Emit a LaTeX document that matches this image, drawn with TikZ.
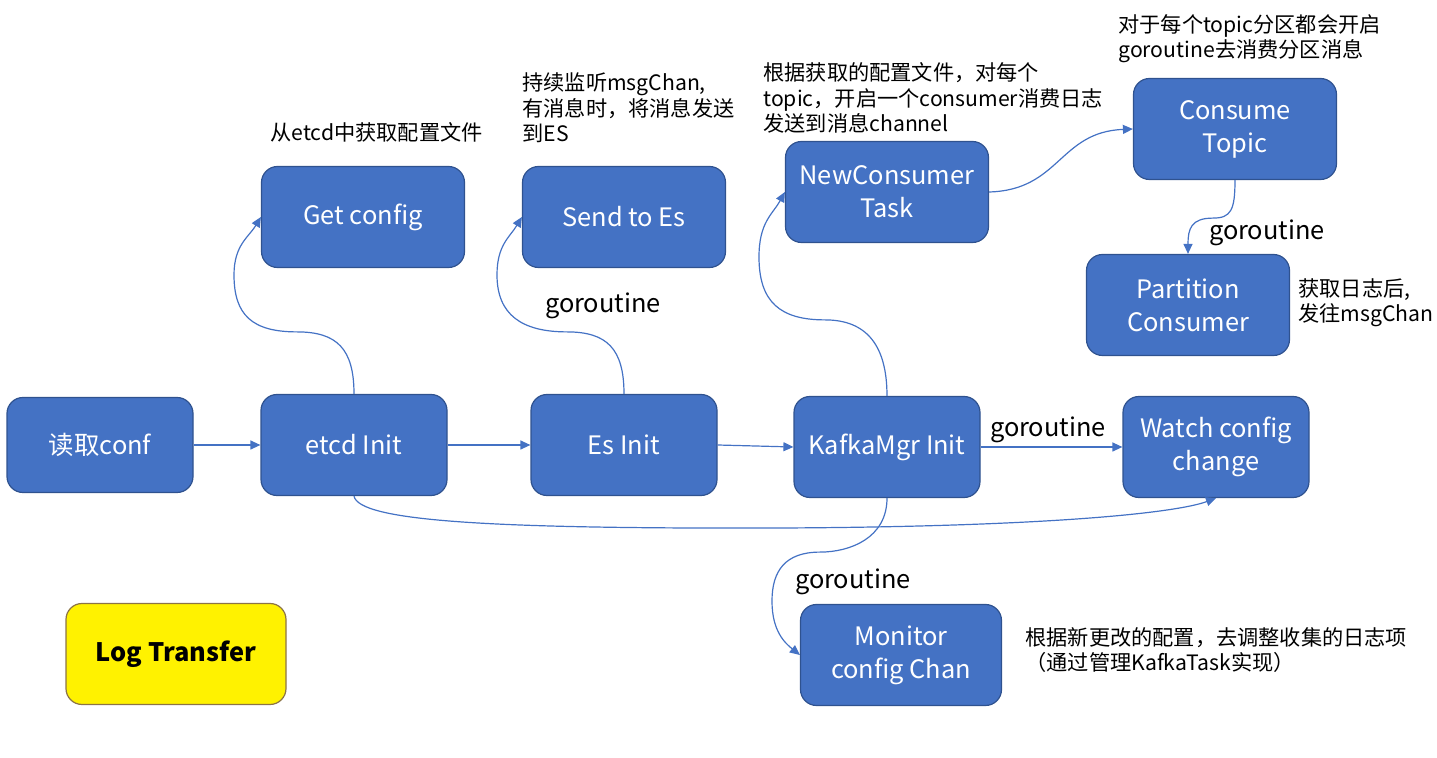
\documentclass[tikz,border=0pt]{standalone}
\usepackage{fontspec}
\setmainfont{Noto Sans CJK SC}
\definecolor{boxblue}{HTML}{4472C4}
\definecolor{rimblue}{HTML}{2F528F}
\definecolor{rimgold}{HTML}{8C7446}
\usetikzlibrary{arrows.meta, positioning}

\begin{document}
\begin{tikzpicture}[x=0.5pt, y=-0.5pt,
    blk/.style={rectangle, rounded corners=8pt, draw=rimblue, line width=0.6pt,
                fill=boxblue, text=white, minimum width=93pt, minimum height=50.5pt,
                align=center, font=\fontsize{12.7}{16.5}\selectfont},
    wblk/.style={blk, minimum width=101.5pt},
    note/.style={align=left, inner sep=0pt, anchor=west,
                 font=\fontsize{10.6}{12.7}\selectfont},
    lbl/.style={inner sep=0pt, font=\fontsize{12.7}{15}\selectfont},
    arr/.style={-{Triangle[length=5pt, width=4.5pt]}, draw=boxblue, line width=0.6pt}
  ]
  \useasboundingbox (0,0) rectangle (1437,758);

  % main line
  \node[blk, minimum height=47.5pt] (conf) at (100,445) {读取conf};
  \node[blk]  (etcd)  at (354,445)  {etcd Init};
  \node[blk]  (es)    at (624,445)  {Es Init};
  \node[blk]  (kafka) at (887,447)  {KafkaMgr Init};
  \node[blk]  (watch) at (1216,447) {Watch config\\change};

  % goroutines
  \node[wblk] (get)   at (363,217)  {Get config};
  \node[wblk] (send)  at (624,217)  {Send to Es};
  \node[wblk] (newc)  at (887,192)  {NewConsumer\\Task};
  \node[wblk] (topic) at (1235,129) {Consume\\Topic};
  \node[wblk] (part)  at (1188,305) {Partition\\Consumer};
  \node[wblk, minimum width=100.5pt] (mon) at (901,655) {Monitor\\config Chan};

  \node[blk, fill=yellow, draw=rimgold, text=black, minimum width=110pt,
        font=\fontsize{12.7}{15}\selectfont\bfseries] (title) at (176,654) {Log Transfer};

  % notes
  \node[note] (n1) at (270,132)    {从etcd中获取配置文件};
  \node[note] (n2) at (522,108)    {持续监听msgChan,\\有消息时，将消息发送\\到ES};
  \node[note] (n3) at (763,98)     {根据获取的配置文件，对每个\\topic，开启一个consumer消费日志\\发送到消息channel};
  \node[note] (n4) at (1118,38.5)  {对于每个topic分区都会开启\\goroutine去消费分区消息};
  \node[note] (n5) at (1298,302.5) {获取日志后,\\发往msgChan};
  \node[note] (n6) at (1025,650)   {根据新更改的配置，去调整收集的日志项\\（通过管理KafkaTask实现）};

  \node[lbl] (g1) at (603,306)  {goroutine};
  \node[lbl] (g2) at (1048,430) {goroutine};
  \node[lbl] (g3) at (1267,233) {goroutine};
  \node[lbl] (g4) at (853,582)  {goroutine};

  % straight arrows
  \draw[arr] (conf.east)  -- (etcd.west);
  \draw[arr] (etcd.east)  -- (es.west);
  \draw[arr] (es.east)    -- (kafka.west);
  \draw[arr] (kafka.east) -- (watch.west);

  % curved arrows
  \draw[arr] (etcd.north) .. controls +(0,-45) and +(40,0) .. ++(-57,-62)
    .. controls +(-45,0) and +(0,40) .. ++(-63,-57)
    .. controls +(0,-30) and +(-12,20) .. (get.west);
  \draw[arr] (es.north) .. controls +(0,-45) and +(40,0) .. ++(-57,-62)
    .. controls +(-45,0) and +(0,40) .. ++(-70,-57)
    .. controls +(0,-30) and +(-12,20) .. (send.west);
  \draw[arr] (kafka.north) .. controls +(0,-50) and +(42,0) .. ++(-62,-76)
    .. controls +(-45,0) and +(0,45) .. ++(-66,-63)
    .. controls +(0,-35) and +(-12,22) .. (newc.west);
  \draw[arr] (newc.east) .. controls +(71,-2) and +(-74,3) .. (topic.west);
  \draw[arr] (topic.south) .. controls +(0,30) and +(18,0) .. ++(-22,38)
    .. controls +(-22,0) and +(0,-25) .. (part.north);
  \draw[arr] (kafka.south) .. controls +(0,40) and +(30,0) .. ++(-67,54)
    .. controls +(-35,0) and +(0,-30) .. ++(-48,49)
    .. controls +(0,30) and +(-15,-12) .. (mon.west);
  \draw[arr] (etcd.south) .. controls +(5,25) and +(-250,0) .. ++(386,32)
    .. controls +(300,0) and +(-40,15) .. (watch.south);
\end{tikzpicture}
\end{document}
